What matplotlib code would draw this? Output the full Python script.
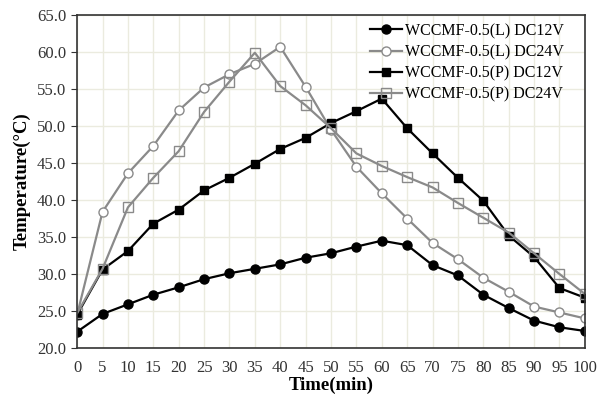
import numpy as np
import matplotlib.pyplot as plt

plt.rcParams['font.family'] = ['Liberation Serif', 'DejaVu Serif']

time = list(range(0, 105, 5))
l_12v = [22.2, 24.6, 25.9, 27.2, 28.2, 29.3, 30.1, 30.7, 31.3, 32.2, 32.8,
         33.7, 34.5, 33.9, 31.2, 29.8, 27.2, 25.4, 23.7, 22.8, 22.3]
l_24v = [24.5, 38.4, 43.6, 47.3, 52.1, 55.2, 57.0, 58.4, 60.7, 55.3, 49.5,
         44.5, 40.9, 37.5, 34.2, 32.0, 29.5, 27.6, 25.6, 24.8, 24.0]
p_12v = [24.5, 30.6, 33.1, 36.8, 38.7, 41.3, 43.0, 44.9, 46.9, 48.4, 50.4,
         52.0, 53.7, 49.7, 46.3, 43.0, 39.9, 35.2, 32.3, 28.1, 26.8]
p_24v = [24.7, 30.7, 39.0, 43.0, 46.6, 51.9, 56.0, 59.9, 55.4, 52.8, 49.7,
         46.3, 44.6, 43.1, 41.7, 39.6, 37.6, 35.6, 32.8, 30.0, 27.3]

labels = ['WCCMF-0.5(L) DC12V', 'WCCMF-0.5(L) DC24V',
          'WCCMF-0.5(P) DC12V', 'WCCMF-0.5(P) DC24V']

fig = plt.figure(figsize=(5.98, 3.95), dpi=100)
ax = fig.add_axes([0.129, 0.119, 0.849, 0.843])

black = '#000000'
grey = '#8a8a8a'
ax.plot(time, l_12v, color=black, marker='o', ms=6.5, lw=1.6, label=labels[0])
ax.plot(time, l_24v, color=grey, marker='o', ms=6.5, lw=1.6, mfc='white',
        mec=grey, label=labels[1])
ax.plot(time, p_12v, color=black, marker='s', ms=5.5, lw=1.6, label=labels[2])
ax.plot(time, p_24v, color=grey, marker='s', ms=6.5, lw=1.6, mfc='none',
        mec=grey, label=labels[3])

ax.set_xlim(0, 100)
ax.set_ylim(20, 65)
ax.set_xticks(time)
ax.set_yticks(np.arange(20, 66, 5))
ax.yaxis.set_major_formatter(plt.FormatStrFormatter('%.1f'))
ax.tick_params(labelsize=12, colors='#333333', length=0, pad=9)
ax.tick_params(axis='y', length=4, direction='out', color='#333333', pad=4)
ax.grid(True, color='#ebebdf', lw=1)
ax.set_axisbelow(True)
for s in ax.spines.values():
    s.set_color('#333333')
    s.set_linewidth(1.2)

ax.set_xlabel('Time(min)', fontsize=13.5, fontweight='bold', labelpad=0)
ax.set_ylabel('Temperature(\u00b0C)', fontsize=13.5, fontweight='bold', labelpad=4)

leg = ax.legend(loc='upper right', frameon=False, fontsize=11.5,
                handlelength=2.0, handletextpad=0.2, labelspacing=0.33,
                borderaxespad=0.1, bbox_to_anchor=(0.975, 1.0))

fig.savefig('out.png', dpi=100)
